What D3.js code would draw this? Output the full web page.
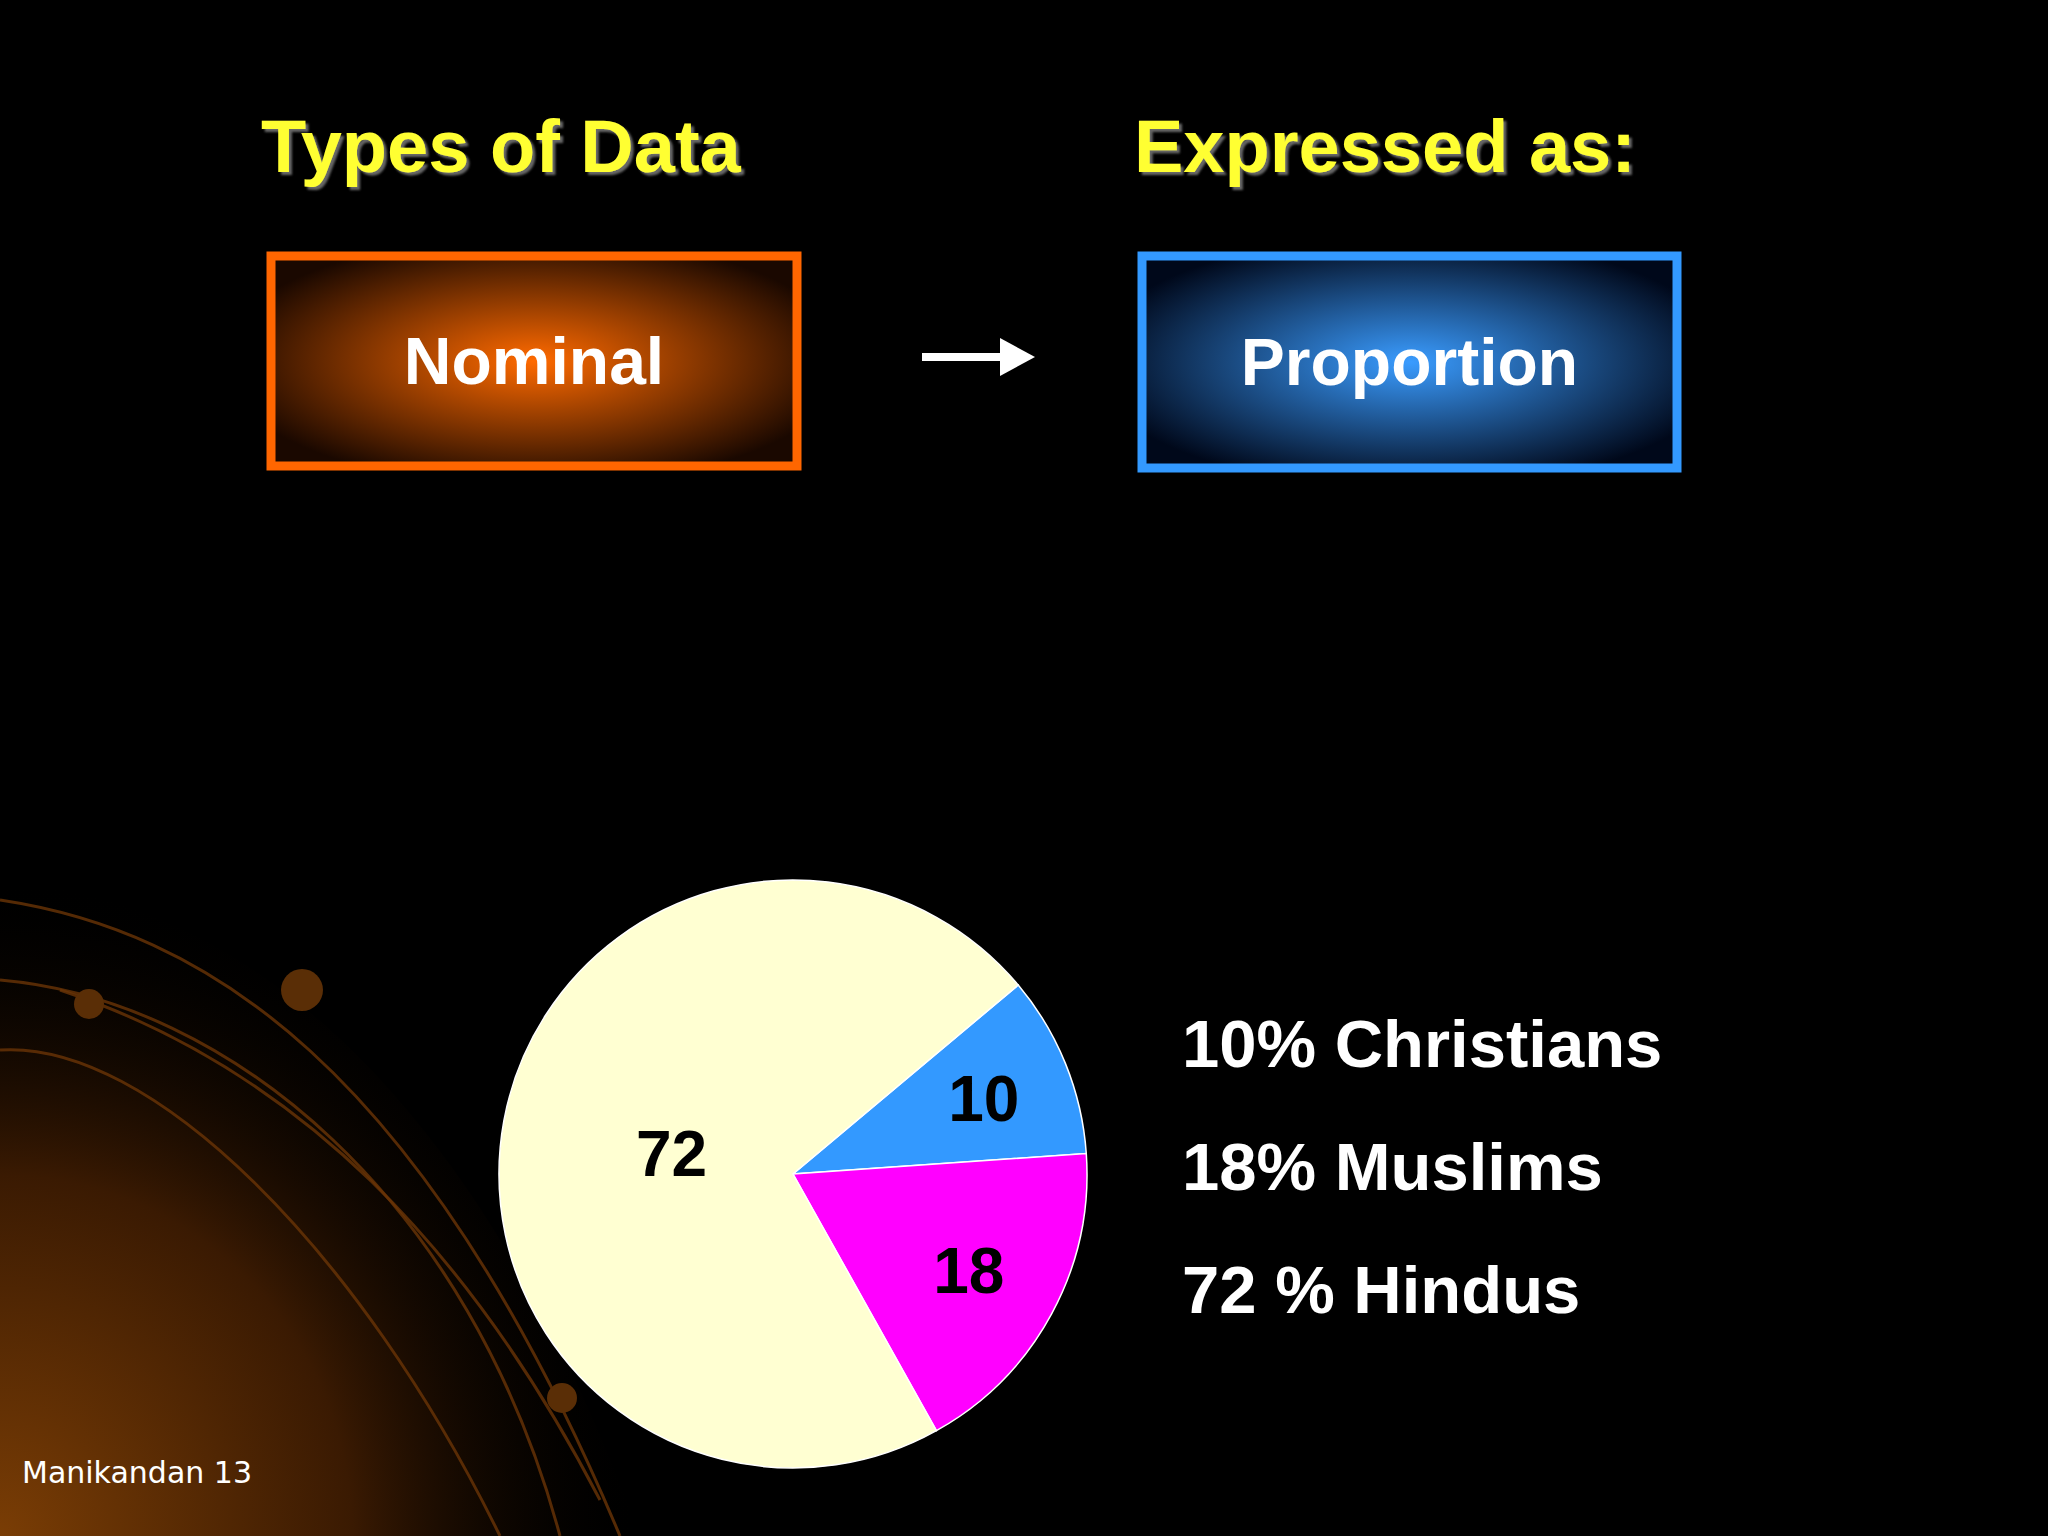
<!DOCTYPE html>
<html><head><meta charset="utf-8">
<script src="https://cdn.jsdelivr.net/npm/d3@7"></script>
<style>html,body{margin:0;padding:0;background:#000;}svg{display:block;}</style>
</head><body>
<script>
const categories = ["Christians", "Muslims", "Hindus"];
const values = [10, 18, 72];
const legendLabels = ["10% Christians", "18% Muslims", "72 % Hindus"];
const sliceColors = ["#3399ff", "#ff00ff", "#ffffd2"];

const W = 2048, H = 1536;
const svg = d3.select("body").append("svg").attr("width", W).attr("height", H);
const defs = svg.append("defs");
svg.append("rect").attr("width", W).attr("height", H).attr("fill", "#000");

const rg = defs.append("radialGradient").attr("id","bgGlow").attr("cx","0%").attr("cy","100%").attr("r","100%");
rg.append("stop").attr("offset","0%").attr("stop-color","#7a3d05");
rg.append("stop").attr("offset","55%").attr("stop-color","#3a1a02");
rg.append("stop").attr("offset","100%").attr("stop-color","#000").attr("stop-opacity",0);
svg.append("path").attr("d","M0,880 C250,900 480,1100 640,1536 L0,1536 Z").attr("fill","url(#bgGlow)");
const curves = [
  "M0,900 C200,930 420,1060 620,1536",
  "M0,980 C230,1000 470,1200 560,1536",
  "M60,990 C300,1070 470,1250 600,1500",
  "M0,1050 C150,1040 360,1250 500,1536"
];
svg.selectAll("path.curve").data(curves).join("path").attr("class","curve")
  .attr("d",d=>d).attr("fill","none").attr("stroke","#6a3506").attr("stroke-width",3).attr("opacity",0.8);
[[302,990,21],[89,1004,15],[562,1398,15]].forEach(c=>{
  svg.append("circle").attr("cx",c[0]).attr("cy",c[1]).attr("r",c[2]).attr("fill","#5a2e06");
});

const shadow = defs.append("filter").attr("id","sh");
shadow.append("feDropShadow").attr("dx",3).attr("dy",3).attr("stdDeviation",1).attr("flood-color","#666");
[["Types of Data",261],["Expressed as:",1134]].forEach(t=>{
  svg.append("text").attr("x",t[1]).attr("y",172).text(t[0])
    .attr("font-family","Liberation Sans, Arial, sans-serif").attr("font-size",74).attr("font-weight","bold")
    .attr("fill","#ffff33").attr("filter","url(#sh)");
});

function box(id,x,y,w,h,c1,c2,border,label){
  const g = defs.append("radialGradient").attr("id",id).attr("cx","50%").attr("cy","50%").attr("r","60%");
  g.append("stop").attr("offset","0%").attr("stop-color",c1);
  g.append("stop").attr("offset","100%").attr("stop-color",c2);
  svg.append("rect").attr("x",x).attr("y",y).attr("width",w).attr("height",h)
    .attr("fill",`url(#${id})`).attr("stroke",border).attr("stroke-width",9);
  svg.append("text").attr("x",x+w/2).attr("y",y+h/2+23).attr("text-anchor","middle").text(label)
    .attr("font-family","Liberation Sans, Arial, sans-serif").attr("font-weight","bold")
    .attr("font-size",66).attr("fill","#fff");
}
box("gO",271,256,526,210,"#ff6a00","#1a0800","#ff6600","Nominal");
box("gB",1142,256,535,212,"#3a9cff","#00081a","#3399ff","Proportion");

svg.append("line").attr("x1",922).attr("x2",1005).attr("y1",357).attr("y2",357).attr("stroke","#fff").attr("stroke-width",8);
svg.append("path").attr("d","M1000,338 L1035,357 L1000,376 Z").attr("fill","#fff");

const cx = 793, cy = 1174, R = 294;
const startA = 50*Math.PI/180;
const pie = d3.pie().sort(null).value(d=>d).startAngle(startA).endAngle(startA+2*Math.PI);
const arc = d3.arc().innerRadius(0).outerRadius(R);
const pg = svg.append("g").attr("transform",`translate(${cx},${cy})`);
const arcs = pie(values);
pg.selectAll("path").data(arcs).join("path").attr("d",arc)
  .attr("fill",(d,i)=>sliceColors[i]).attr("stroke","#fff").attr("stroke-width",1.5);
const labelR = [0.7,0.68,0.42];
pg.selectAll("text").data(arcs).join("text")
  .attr("transform",(d,i)=>{const a=(d.startAngle+d.endAngle)/2; const r=R*labelR[i];
    return `translate(${r*Math.sin(a)},${-r*Math.cos(a)+24})`;})
  .attr("text-anchor","middle").text(d=>d.data)
  .attr("font-family","Liberation Sans, Arial, sans-serif").attr("font-weight","bold")
  .attr("font-size",64).attr("fill","#000");

const ly = d3.scalePoint().domain(categories).range([1067,1313]);
svg.selectAll("text.leg").data(categories).join("text").attr("class","leg")
  .attr("x",1182).attr("y",d=>ly(d)).text((d,i)=>legendLabels[i])
  .attr("font-family","Liberation Sans, Arial, sans-serif").attr("font-weight","bold")
  .attr("font-size",67).attr("fill","#fff");

svg.append("text").attr("x",22).attr("y",1483).text("Manikandan 13")
  .attr("font-family","Comic Sans MS, DejaVu Sans, sans-serif").attr("font-size",30).attr("fill","#fff");
</script>
</body></html>
